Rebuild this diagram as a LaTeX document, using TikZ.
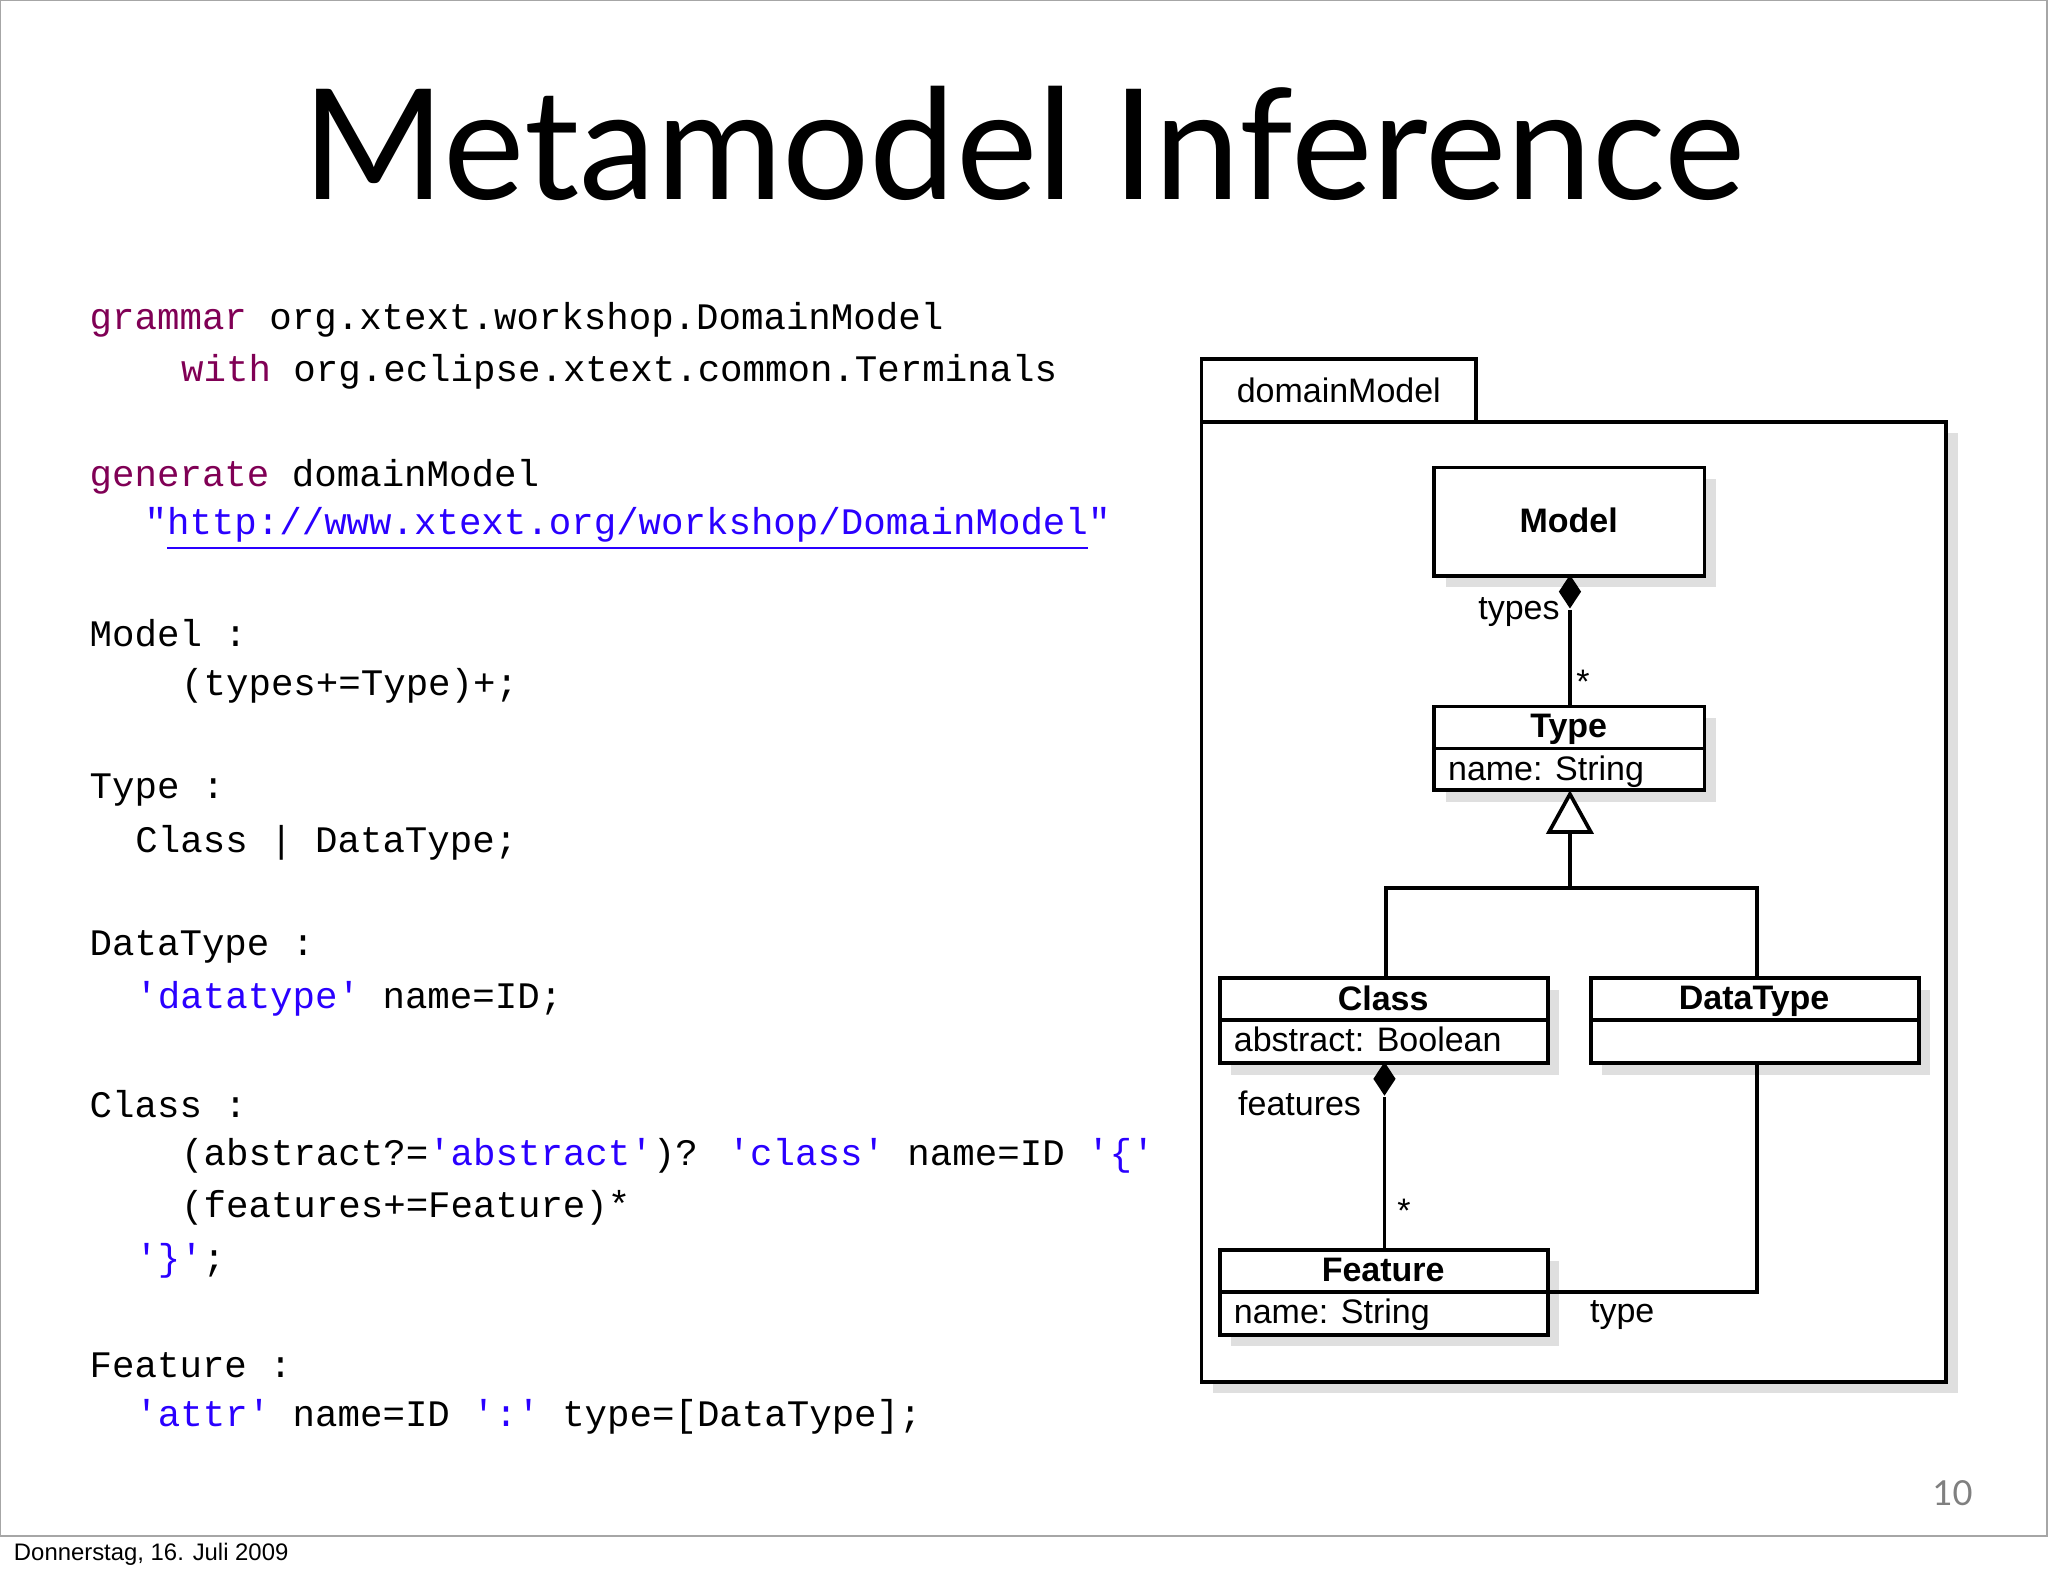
\documentclass[tikz,border=0pt]{standalone}
\usepackage{fontspec}
\setmainfont{Liberation Sans}
\newfontfamily\titlefont{Lato}
\newfontfamily\codefont{Liberation Mono}
\usetikzlibrary{shapes,arrows,positioning,shadows}
\definecolor{kwcol}{RGB}{128,0,85}
\definecolor{strcol}{RGB}{42,0,255}
\begin{document}
\begin{tikzpicture}[
    x=0.01cm, y=-0.01cm,
    code/.style={anchor=west, inner sep=0pt, font=\codefont\fontsize{8.15}{10}\selectfont},
    umlbox/.style={draw=black, thick, fill=white, drop shadow={opacity=0.25, shadow xshift=2.5pt, shadow yshift=-2.5pt}},
    umltext/.style={inner sep=0pt, text depth=0pt, font=\fontsize{7.4}{9}\selectfont},
    bold/.style={umltext, font=\fontsize{7.4}{9}\selectfont\bfseries},
    conn/.style={thick},
    comp/.style={diamond, fill=black, inner sep=0pt, minimum width=5pt, minimum height=7.5pt}
  ]
    % -- slide frame -----------------------------------------
    \useasboundingbox (0,0) rectangle (1568,1207);
    \draw[gray!70] (0,0) rectangle (1567,1176);
    \node[anchor=west, inner sep=0pt, font=\fontsize{5.2}{7}\selectfont] (date) at (10,1190) {Donnerstag, 16. Juli 2009};
    \node[inner sep=0pt, text=black!50, font=\titlefont\fontsize{7.5}{10}\selectfont] (pnum) at (1495,1143) {10};
    \node[inner sep=0pt, font=\titlefont\fontsize{33.5}{36}\selectfont] (title) at (784,110) {Metamodel Inference};

    % -- grammar text ----------------------------------------
    \node[code] (l1)  at (68,245)  {\textcolor{kwcol}{grammar} org.xtext.workshop.DomainModel};
    \node[code] (l2)  at (138,285) {\textcolor{kwcol}{with} org.eclipse.xtext.common.Terminals};
    \node[code] (l3)  at (68,365)  {\textcolor{kwcol}{generate} domainModel};
    \node[code] (l4)  at (110,405) {\textcolor{strcol}{"\underline{http://www.xtext.org/workshop/DomainModel}"}};
    \node[code] (l5)  at (68,485)  {Model :};
    \node[code] (l6)  at (138,525) {(types+=Type)+;};
    \node[code] (l7)  at (68,605)  {Type :};
    \node[code] (l8)  at (103,645) {Class | DataType;};
    \node[code] (l9)  at (68,725)  {DataType :};
    \node[code] (l10) at (103,765) {\textcolor{strcol}{'datatype'} name=ID;};
    \node[code] (l11) at (68,845)  {Class :};
    \node[code] (l12) at (138,885) {(abstract?=\textcolor{strcol}{'abstract'})? \textcolor{strcol}{'class'} name=ID \textcolor{strcol}{'\{'}};
    \node[code] (l13) at (138,925) {(features+=Feature)*};
    \node[code] (l14) at (103,965) {\textcolor{strcol}{'\}'};};
    \node[code] (l15) at (68,1045) {Feature :};
    \node[code] (l16) at (103,1085) {\textcolor{strcol}{'attr'} name=ID \textcolor{strcol}{':'} type=[DataType];};

    % -- package ---------------------------------------------
    \draw[umlbox] (920,323) rectangle (1490,1058);
    \draw[thick, fill=white] (920,275) rectangle (1130,323);
    \node[umltext] (pkg) at (1025,299) {domainModel};

    % -- classes ---------------------------------------------
    \draw[umlbox] (1098,358) rectangle (1305,441);
    \node[bold] (model) at (1201,398) {Model};

    \draw[umlbox] (1098,541) rectangle (1305,605);
    \draw[thick] (1098,573) -- (1305,573);
    \node[bold] (type) at (1201,556) {Type};
    \node[umltext, anchor=west] (typeattr) at (1108,588) {name: String};

    \draw[umlbox] (934,749) rectangle (1185,814);
    \draw[thick] (934,781) -- (1185,781);
    \node[bold] (class) at (1059,764) {Class};
    \node[umltext, anchor=west] (classattr) at (944,796) {abstract: Boolean};

    \draw[umlbox] (1218,749) rectangle (1469,814);
    \draw[thick] (1218,781) -- (1469,781);
    \node[bold] (dtype) at (1343,764) {DataType};

    \draw[umlbox] (934,957) rectangle (1185,1022);
    \draw[thick] (934,989) -- (1185,989);
    \node[bold] (feature) at (1059,972) {Feature};
    \node[umltext, anchor=west] (featattr) at (944,1004) {name: String};

    % -- associations ----------------------------------------
    \node[comp] (d1) at (1202,453) {};
    \draw[conn] (d1.south) -- (1202,541);
    \node[umltext] (types) at (1163,466) {types};
    \node[umltext] (m1) at (1212,522) {*};

    \node[comp] (d2) at (1060,826) {};
    \draw[conn] (d2.south) -- (1060,957);
    \node[umltext] (features) at (995,845) {features};
    \node[umltext] (m2) at (1075,927) {*};

    \draw[conn] (1345,814) -- (1345,989) -- (1185,989);
    \node[umltext] (typelbl) at (1242,1004) {type};

    % -- generalisation --------------------------------------
    \draw[conn, fill=white] (1202,608) -- (1186,637) -- (1218,637) -- cycle;
    \draw[conn] (1202,637) -- (1202,680);
    \draw[conn] (1061,749) -- (1061,680) -- (1345,680) -- (1345,749);
  \end{tikzpicture}
\end{document}
